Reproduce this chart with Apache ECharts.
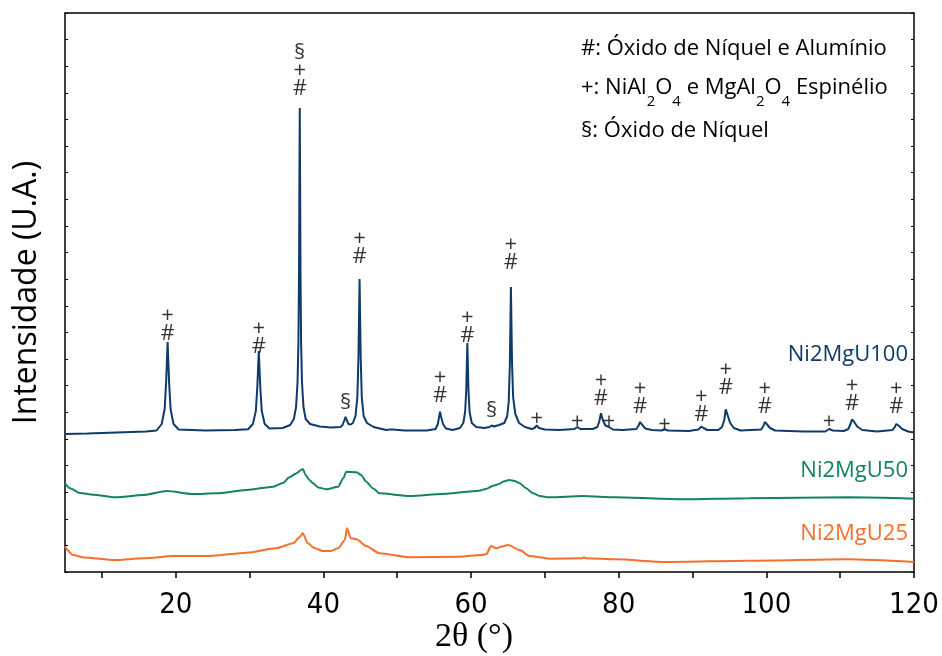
<!DOCTYPE html>
<html>
<head>
<meta charset="utf-8">
<script src="https://cdn.jsdelivr.net/npm/echarts@6/dist/echarts.min.js"></script>
<style>
  html, body { margin: 0; padding: 0; background: #fff; }
  #chart { width: 942px; height: 656px; }
</style>
</head>
<body>
<div id="chart"></div>
<script>
// X-axis tick positions and labelled values (2θ, degrees)
const angleTicks = [10, 20, 30, 40, 50, 60, 70, 80, 90, 100, 110, 120];
const angleLabels = [20, 40, 60, 80, 100, 120];

// Diffractograms, [2θ, intensity (a.u., stacked offset included)]
const ni2mgu100 = [
  [5, 138], [8, 138.5], [12, 139.5], [16, 140.5],
  [17.4, 141.5], [18.1, 148], [18.5, 163], [18.7, 190], [18.9, 230], [19.1, 190], [19.3, 163], [19.7, 148], [20.4, 142.5],
  [24, 141.5], [28, 142],
  [29.8, 142.8], [30.45, 148], [30.85, 161], [31.05, 185], [31.25, 221], [31.45, 185], [31.65, 161], [32.05, 148], [32.7, 143.5],
  [34.5, 144], [35.5, 147], [36.0, 153], [36.3, 165], [36.5, 190], [36.62, 230], [36.7, 300], [36.75, 390], [36.8, 464],
  [36.85, 390], [36.9, 300], [36.98, 230], [37.1, 190], [37.3, 165], [37.6, 153], [38.2, 148], [39.5, 145.5], [41, 144.5], [42.3, 145],
  [42.6, 147], [42.85, 152], [43.0, 155.3], [43.15, 152], [43.4, 148], [43.7, 147.5],
  [44.0, 149], [44.35, 156], [44.6, 175], [44.75, 215], [44.9, 293], [45.05, 215], [45.2, 175], [45.45, 156], [45.9, 149], [46.8, 145],
  [48.5, 142], [49.0, 142.5], [49.2, 143.5], [49.4, 142.5], [51, 141.5], [54, 141.5],
  [55.2, 143], [55.5, 148], [55.7, 156], [55.8, 160.3], [55.95, 155], [56.2, 148], [56.6, 143.5], [57.5, 142],
  [58.5, 144], [58.95, 149], [59.2, 160], [59.35, 182], [59.5, 229], [59.65, 182], [59.8, 160], [60.1, 149], [60.7, 145], [61.8, 144],
  [62.5, 145], [62.8, 146.5], [63.1, 145.5], [63.8, 147],
  [64.5, 149], [64.9, 156], [65.1, 170], [65.25, 205], [65.4, 285], [65.55, 210], [65.7, 175], [66.0, 158], [66.5, 149], [67.3, 145], [68.2, 143],
  [68.6, 144], [68.9, 146.5], [69.2, 144], [70, 142.5], [72, 142],
  [74.0, 143], [74.4, 145], [74.8, 143], [76.5, 143],
  [77.1, 145], [77.35, 150], [77.6, 158.7], [77.85, 152], [78.2, 146.5], [78.7, 145], [79.2, 142.5],
  [80.5, 142], [82.4, 143], [82.7, 146.5], [82.9, 150], [83.15, 147.5], [83.6, 143.5], [84.5, 142],
  [85.8, 141.5], [86.2, 142.7], [86.7, 141.5], [89.5, 141],
  [90.8, 142.5], [91.2, 145.5], [91.5, 144], [92, 142], [93.5, 142],
  [94.0, 145], [94.3, 152], [94.5, 162.7], [94.75, 157], [95.1, 149], [95.6, 144], [96.5, 141.5],
  [99.3, 142.5], [99.6, 146], [99.8, 150], [100.1, 147.5], [100.5, 144], [101.2, 141.5], [105, 140.5],
  [108, 140.5], [108.5, 143], [109, 141.5], [110.5, 141],
  [111.1, 143], [111.4, 148], [111.6, 152.7], [111.9, 150], [112.3, 145.5], [113, 142], [115, 140.5],
  [117.1, 142], [117.4, 145], [117.6, 148], [117.9, 146.5], [118.4, 143], [119.2, 140.5], [120, 139.5]
];

const ni2mgu50 = [
  [5, 88.7], [5.7, 83.7], [7.0, 79], [8.8, 77.3], [11.8, 74.7], [15.6, 77], [18.8, 81], [22.3, 78], [25.5, 78.7],
  [29.6, 82], [33.2, 85.3], [34.5, 89], [35.4, 94.7], [36.3, 98.5], [37.0, 102], [37.2, 103], [37.6, 97], [38.1, 92],
  [38.6, 88.7], [39.3, 84.5], [40.4, 82.7], [42.0, 85.3], [42.7, 93.7], [43.1, 100.3], [44.5, 99.7], [45.1, 97],
  [45.8, 90.3], [46.7, 83.7], [47.6, 78.7], [51.7, 76], [56.2, 78], [61.1, 81.3], [62.0, 83], [63.0, 86.3],
  [63.8, 88], [64.4, 90.5], [65.2, 92], [65.9, 91], [66.6, 88.7], [67.4, 84], [68.4, 78.7], [69.3, 76], [70.6, 74.7],
  [75.1, 76], [79.6, 74.7], [88.7, 72.7], [97.7, 73.7], [111.2, 74.7], [120, 73.3]
];

const ni2mgu25 = [
  [5, 25.3], [6.1, 17], [7.5, 14.5], [11.8, 12], [15.6, 13.7], [19.7, 16], [24.6, 16], [29.6, 19.3], [33.6, 23.7],
  [35.9, 28.7], [36.8, 35], [37.2, 38.7], [37.9, 28.7], [38.8, 24], [39.9, 21], [41, 21], [42, 23.7], [42.9, 32],
  [43.2, 43.7], [43.7, 33.7], [44.5, 32.7], [45.8, 26], [47.6, 18.7], [51.7, 14.7], [58.4, 15.3], [61.4, 17],
  [62.1, 18], [62.7, 26], [63.4, 23.7], [64.2, 25.5], [65, 27], [66.6, 22], [67.9, 16], [70.6, 13.3], [75.1, 13.7],
  [75.3, 14.7], [75.6, 13.7], [79.6, 12.7], [86.4, 10], [97.7, 11.3], [111, 12.7], [120, 10]
];

// Reflection markers over the Ni2MgU100 pattern
const peakAngles = [18.9, 31.25, 36.8, 43.0, 44.9, 55.8, 59.5, 62.8, 65.4, 68.9, 74.4, 77.6, 78.7, 82.9, 86.2, 91.2, 94.5, 99.8, 108.5, 111.6, 117.6];
const peakMarks = ['+\n#', '+\n#', '§\n+\n#', '§', '+\n#', '+\n#', '+\n#', '§', '+\n#', '+', '+', '+\n#', '+', '+\n#', '+', '+\n#', '+\n#', '+\n#', '+', '+\n#', '+\n#'];
const markLevels = [229, 216, 474, 160, 306, 167, 227, 152, 300, 144, 141, 164, 141, 156, 138, 148, 175, 156, 141, 159, 156];

const seriesNames = ['Ni2MgU100', 'Ni2MgU50', 'Ni2MgU25'];
const seriesColors = ['#0f3a6a', '#14845c', '#f66f2c'];

const sansFont = '"Open Sans", "Noto Sans", sans-serif';

const chart = echarts.init(document.getElementById('chart'), null, { renderer: 'canvas' });

const frameAxisY = (position) => ({
  type: 'value',
  position: position,
  min: 0,
  max: 559,
  interval: 559 / 21,
  axisLine: { show: true, onZero: false, lineStyle: { color: '#000', width: 1.5 } },
  axisTick: { show: true, inside: true, length: 3, lineStyle: { color: '#000', width: 1 } },
  axisLabel: { show: false },
  splitLine: { show: false }
});

const leftAxis = frameAxisY('left');
leftAxis.name = 'Intensidade (U.A.)';
leftAxis.nameLocation = 'middle';
leftAxis.nameGap = 22;
leftAxis.nameTextStyle = { fontFamily: sansFont, fontSize: 32, color: '#000' };

const rightAxis = frameAxisY('right');

const curve = (idx, data, z) => ({
  name: seriesNames[idx], type: 'line', data: data, showSymbol: false, symbol: 'none',
  smooth: idx === 0 ? false : 0.25, smoothMonotone: 'x',
  lineStyle: { color: seriesColors[idx], width: 2 }, z: z
});

chart.setOption({
  animation: false,
  backgroundColor: '#fff',
  grid: { left: 65, right: 28, top: 13, bottom: 84, containLabel: false, outerBoundsMode: 'none' },
  xAxis: [
    {
      type: 'value',
      min: 5,
      max: 120,
      position: 'bottom',
      axisLine: { show: true, onZero: false, lineStyle: { color: '#000', width: 1.5 } },
      axisTick: { show: true, inside: false, length: 6, customValues: angleTicks, lineStyle: { color: '#000', width: 1.5 } },
      axisLabel: {
        customValues: angleLabels,
        margin: 19,
        fontFamily: '"Liberation Sans Narrow", "DejaVu Sans Condensed", sans-serif',
        fontSize: 29,
        color: '#000'
      },
      splitLine: { show: false }
    },
    {
      type: 'value',
      min: 5,
      max: 120,
      position: 'top',
      axisLine: { show: true, onZero: false, lineStyle: { color: '#000', width: 1.5 } },
      axisTick: { show: false },
      axisLabel: { show: false },
      splitLine: { show: false }
    }
  ],
  yAxis: [leftAxis, rightAxis],
  series: [
    curve(0, ni2mgu100, 3),
    curve(1, ni2mgu50, 2),
    curve(2, ni2mgu25, 2),
    {
      name: 'marks', type: 'scatter',
      data: peakAngles.map((a, i) => [a, markLevels[i], peakMarks[i]]),
      symbolSize: 1,
      itemStyle: { color: 'rgba(0,0,0,0)' },
      silent: true,
      label: {
        show: true,
        position: 'top',
        distance: 0,
        formatter: (p) => p.data[2],
        fontFamily: sansFont,
        fontSize: 22,
        lineHeight: 18,
        color: '#000',
        align: 'center'
      },
      z: 4
    }
  ],
  graphic: [
    {
      // x-axis title
      type: 'text', x: 474, y: 637,
      style: {
        text: '2θ (°)', font: '34px "Liberation Serif", "DejaVu Serif", serif', fill: '#000',
        align: 'center', verticalAlign: 'middle'
      }
    },
    {
      type: 'text', left: 581, top: 38,
      style: { text: '#: Óxido de Níquel e Alumínio', font: '22px "Open Sans"', fill: '#000' }
    },
    {
      type: 'text', left: 581, top: 77,
      style: {
        text: '+: NiAl{sub|2}O{sub|4} e MgAl{sub|2}O{sub|4} Espinélio',
        font: '22px "Open Sans"', fill: '#000',
        rich: {
          sub: { fontSize: 15, fontFamily: 'Open Sans', verticalAlign: 'bottom', lineHeight: 42 }
        }
      }
    },
    {
      type: 'text', left: 581, top: 120,
      style: { text: '§: Óxido de Níquel', font: '22px "Open Sans"', fill: '#000' }
    },
    {
      type: 'text', right: 34, top: 344,
      style: { text: seriesNames[0], font: '22px "Open Sans"', fill: seriesColors[0], align: 'right' }
    },
    {
      type: 'text', right: 34, top: 460,
      style: { text: seriesNames[1], font: '22px "Open Sans"', fill: seriesColors[1], align: 'right' }
    },
    {
      type: 'text', right: 34, top: 523,
      style: { text: seriesNames[2], font: '22px "Open Sans"', fill: seriesColors[2], align: 'right' }
    }
  ]
});
</script>
</body>
</html>
